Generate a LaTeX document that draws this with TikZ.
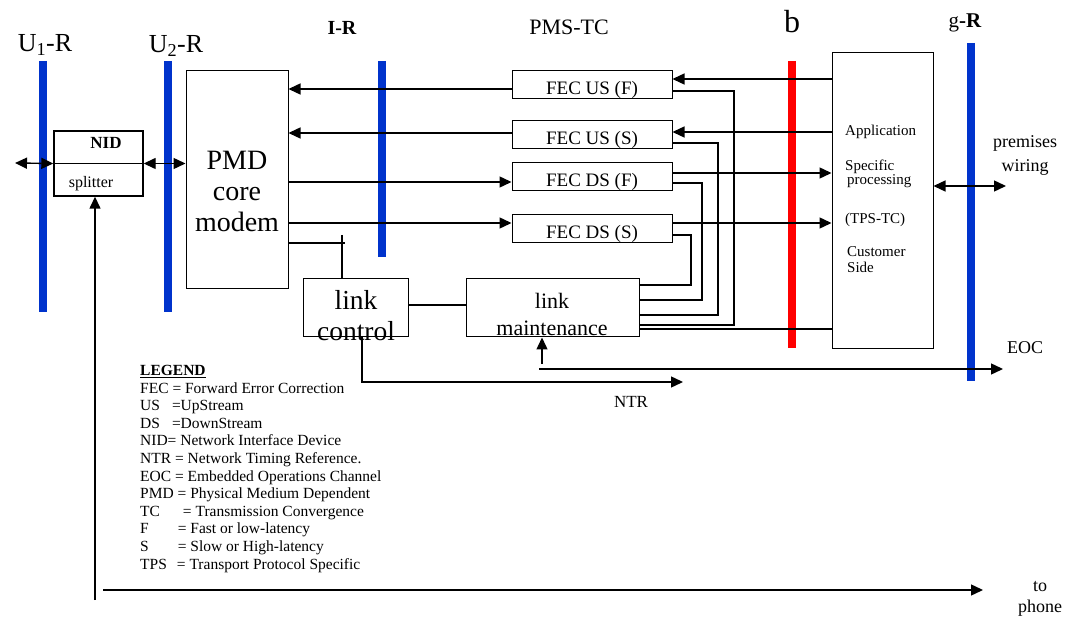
\documentclass[tikz,border=0pt]{standalone}
\usepackage{fontspec}
\setmainfont{Liberation Serif}
\usetikzlibrary{arrows.meta}
\definecolor{barblue}{RGB}{0,51,204}
\definecolor{barred}{RGB}{255,0,0}

\begin{document}
\begin{tikzpicture}[x=1pt,y=-1pt,
		box/.style={draw, line width=1pt, inner sep=0pt},
		fecbox/.style={box, minimum width=160, text height=24, text depth=4, font=\fontsize{19}{19}\selectfont},
		txt/.style={inner sep=0pt},
		bluebar/.style={barblue, line width=8pt},
		redbar/.style={barred, line width=8pt},
		wire/.style={line width=1.4pt},
		arr/.style={wire, -{Triangle[length=12pt,width=11pt]}},
		darr/.style={wire, {Triangle[length=12pt,width=11pt]}-{Triangle[length=12pt,width=11pt]}}]
		
		\useasboundingbox (0,0) rectangle (1066,620);
		
		% reference points
		\draw[bluebar] (43,61) -- (43,312);
		\draw[bluebar] (168,61) -- (168,312);
		\draw[bluebar] (382,61) -- (382,257);
		\draw[redbar] (792,61) -- (792,348);
		\draw[bluebar] (971,43) -- (971,381);
		
		\node[txt, anchor=base, font=\fontsize{26}{26}\selectfont] (u1) at (45,52) {U\textsubscript{1}-R};
		\node[txt, anchor=base, font=\fontsize{26}{26}\selectfont] (u2) at (176,53) {U\textsubscript{2}-R};
		\node[txt, anchor=base, font=\bfseries\fontsize{20}{20}\selectfont] (ir) at (342,35) {I-R};
		\node[txt, anchor=base, font=\fontsize{22}{22}\selectfont] (pmstc) at (569,35) {PMS-TC};
		\node[txt, anchor=base, font=\fontsize{32}{32}\selectfont] (b) at (792,33) {b};
		\node[txt, anchor=base, font=\fontsize{21}{21}\selectfont] (gr) at (965,28) {g\textbf{-R}};
		
		% NID
		\node[box, line width=1.4pt, minimum width=89, minimum height=65] (nid) at (98.5,163.5) {};
		\draw[line width=1.4pt] (nid.west) -- (nid.east);
		\node[txt, anchor=base, font=\bfseries\fontsize{17}{17}\selectfont] (nidtxt) at (106,149) {NID};
		\node[txt, anchor=base, font=\fontsize{16}{16}\selectfont] (split) at (91,188) {splitter};
		
		% PMD
		\node[box, minimum width=102, minimum height=218] (pmd) at (237,180) {};
		\node[align=center, font=\fontsize{28}{31}\selectfont] (pmdtxt) at (237,191) {PMD\\core\\modem};
		
		% FEC blocks
		\node[fecbox] (usf) at (592,85) {FEC US (F)};
		\node[fecbox] (uss) at (592,135) {FEC US (S)};
		\node[fecbox] (dsf) at (592,177) {FEC DS (F)};
		\node[fecbox] (dss) at (592,229) {FEC DS (S)};
		
		% link blocks
		\node[box, minimum width=105, minimum height=58] (lc) at (356,308) {};
		\node[align=center, font=\fontsize{27.5}{31}\selectfont] (lctxt) at (356,316) {link\\control};
		\node[box, minimum width=173, minimum height=58] (lm) at (552.5,308) {};
		\node[align=center, font=\fontsize{22}{27}\selectfont] (lmtxt) at (552,314.5) {link\\maintenance};
		
		% TPS-TC
		\node[box, minimum width=101, minimum height=296] (app) at (882.5,201) {};
		\node[txt, anchor=base west, font=\fontsize{15}{14}\selectfont] (appl) at (845,136) {Application};
		\node[txt, anchor=north west, align=left, font=\fontsize{15}{14}\selectfont] (spec) at (845,160) {Specific\\\hspace{2pt}processing};
		\node[txt, anchor=base west, font=\fontsize{15}{14}\selectfont] (tps) at (845,224) {(TPS-TC)};
		\node[txt, anchor=north west, align=left, font=\fontsize{15}{16}\selectfont] (cust) at (847,246) {Customer\\Side};
		
		% data paths
		\draw[arr] (app.west |- 0,79) -- (usf.east |- 0,79);
		\draw[arr] (app.west |- 0,132) -- (uss.east |- 0,132);
		\draw[arr] (dsf.east |- 0,173) -- (app.west |- 0,173);
		\draw[arr] (dss.east |- 0,223) -- (app.west |- 0,223);
		\draw[arr] (usf.west |- 0,89) -- (pmd.east |- 0,89);
		\draw[arr] (uss.west |- 0,133) -- (pmd.east |- 0,133);
		\draw[arr] (pmd.east |- 0,182) -- (dsf.west |- 0,182);
		\draw[arr] (pmd.east |- 0,223) -- (dss.west |- 0,223);
		
		% maintenance bundle
		\draw[wire] (usf.east |- 0,91) -- (734,91) -- (734,325) -- (lm.east |- 0,325);
		\draw[wire] (uss.east |- 0,143) -- (718,143) -- (718,315) -- (lm.east |- 0,315);
		\draw[wire] (dsf.east |- 0,183) -- (702,183) -- (702,300) -- (lm.east |- 0,300);
		\draw[wire] (dss.east |- 0,235) -- (691,235) -- (691,285) -- (lm.east |- 0,285);
		\draw[wire] (lm.east |- 0,329) -- (app.west |- 0,329);
		\draw[wire] (lc.east |- 0,305) -- (lm.west |- 0,305);
		
		\coordinate (tick) at (342,235);
		\draw[wire] (pmd.east |- 0,243) -- (345,243);
		\draw[wire] (tick) -- (lc.north -| tick);
		
		% NID and premises side
		\coordinate (line) at (15,163);
		\draw[darr] (line) -- (nid.west);
		\draw[darr] (nid.east) -- (pmd.west |- nid.east);
		\coordinate (wiring) at (1006,186);
		\draw[darr] (app.east |- wiring) -- (wiring);
		\node[txt, anchor=north, align=center, font=\fontsize{18}{24}\selectfont] (prem) at (1025,135) {premises\\wiring};
		
		% EOC and NTR
		\coordinate (eocin) at (542,364);
		\draw[arr] (eocin) -- (lm.south -| eocin);
		\coordinate (eocstart) at (539,369);
		\coordinate (eocend) at (1003,369);
		\draw[arr] (eocstart) -- (eocend);
		\node[txt, anchor=base, font=\fontsize{18}{18}\selectfont] (eoc) at (1025,354) {EOC};
		\coordinate (ntr) at (683,382);
		\draw[arr] (lc.south -| 362,0) |- (ntr);
		\node[txt, anchor=base, font=\fontsize{17}{17}\selectfont] (ntrtxt) at (631,407) {NTR};
		
		% phone
		\coordinate (phonebot) at (95,600);
		\draw[arr] (phonebot) -- (nid.south -| phonebot);
		\coordinate (phonel) at (103,590);
		\coordinate (phoner) at (983,590);
		\draw[arr] (phonel) -- (phoner);
		\node[txt, anchor=north, align=center, font=\fontsize{18}{21}\selectfont] (phone) at (1040,581) {to\\phone};
		
		% legend
		\node[anchor=north west, align=left, inner sep=0pt, font=\fontsize{15.5}{17.6}\selectfont] (legend) at (140,365) {%
			\underline{\textbf{LEGEND}}\\
			FEC = Forward Error Correction\\
			US\hspace{12pt}=UpStream\\
			DS\hspace{12pt}=DownStream\\
			NID= Network Interface Device\\
			NTR = Network Timing Reference.\\
			EOC = Embedded Operations Channel\\
			PMD = Physical Medium Dependent\\
			TC\hspace{23pt}= Transmission Convergence\\
			F\hspace{29pt}= Fast or low-latency\\
			S\hspace{29pt}= Slow or High-latency\\
			TPS\hspace{10pt}= Transport Protocol Specific};
	\end{tikzpicture}
\end{document}
